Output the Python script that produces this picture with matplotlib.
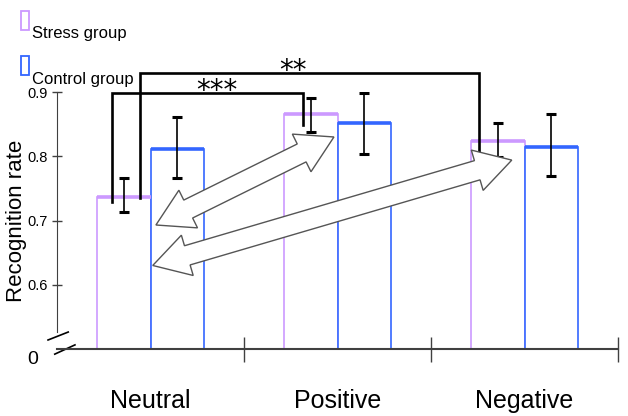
import numpy as np
import matplotlib.pyplot as plt
from matplotlib.patches import Polygon, Rectangle
from matplotlib.transforms import IdentityTransform

# data
categories = ['Neutral', 'Positive', 'Negative']
groups = ['Stress group', 'Control group']
stress_mean = [0.737, 0.865, 0.824]
stress_lo = [0.713, 0.837, 0.799]
stress_hi = [0.766, 0.890, 0.852]
control_mean = [0.811, 0.852, 0.815]
control_lo = [0.766, 0.803, 0.770]
control_hi = [0.861, 0.898, 0.865]
yticks = [0.6, 0.7, 0.8, 0.9]

# significance brackets: (left leg x, right leg x, left bottom, right bottom, top, label x, label)
brackets = [(-0.204, 0.815, 0.729, 0.849, 0.898, 0.356, '***'),
            (-0.055, 1.757, 0.735, 0.807, 0.929, 0.762, '**')]
# hollow double arrows between bars (data coords)
arrows = [((0.029, 0.693), (0.981, 0.830)),
          ((0.012, 0.630), (1.932, 0.794))]

base = 0.5
w = 0.285
lav = '#cc99ff'
blue = '#3366ff'
plt.rcParams['font.family'] = ['Liberation Sans', 'DejaVu Sans']

fig = plt.figure(figsize=(6.28, 4.16), dpi=100)
ax = fig.add_axes([57 / 628, 67 / 416, 561 / 628, 257 / 416])

x = np.arange(len(categories))
xs = x - w / 2
xc = x + w / 2
sm = np.array(stress_mean)
cm = np.array(control_mean)
ax.bar(xs, sm - base, w, bottom=base, facecolor='white', edgecolor=lav, linewidth=1.2, zorder=2)
ax.bar(xc, cm - base, w, bottom=base, facecolor='white', edgecolor=blue, linewidth=1.2, zorder=2)
ax.hlines(sm, xs - w / 2, xs + w / 2, color=lav, lw=2.6, zorder=3)
ax.hlines(cm, xc - w / 2, xc + w / 2, color=blue, lw=2.6, zorder=3)

for pos, m, lo, hi in [(xs, sm, stress_lo, stress_hi), (xc, cm, control_lo, control_hi)]:
    err = [m - np.array(lo), np.array(hi) - m]
    ax.errorbar(pos, m, yerr=err, fmt='none', ecolor='black', elinewidth=1.2,
                capsize=3.5, capthick=2.2, zorder=4)

ax.set_xlim(-0.5, 2.5)
ax.set_ylim(base, 0.9)

for s in ['top', 'right']:
    ax.spines[s].set_visible(False)
ax.spines['left'].set_bounds(0.527, 0.9)
ax.spines['left'].set_color('#404040')
ax.spines['bottom'].set_color('#404040')
ax.spines['bottom'].set_linewidth(1.5)

ax.set_yticks(yticks)
ax.set_yticklabels([f'{v:.1f}' for v in yticks], fontsize=10.5)
ax.tick_params(axis='y', direction='inout', length=7, width=1, color='#404040', pad=3)

ax.set_xticks([0.5, 1.5, 2.5])
ax.set_xticklabels([])
ax.set_xticks(x, minor=True)
ax.set_xticklabels(categories, minor=True, fontsize=18)
ax.tick_params(axis='x', which='major', direction='inout', length=18, width=1, color='#404040')
ax.tick_params(axis='x', which='minor', length=0, pad=29)

ax.set_ylabel('Recognition rate', fontsize=16)
ax.yaxis.set_label_coords(-0.053, 0.5)

# broken axis marks and the "0"
ax.plot([-0.016, 0.020], [0.035, 0.066], transform=ax.transAxes, color='black', lw=1.2, clip_on=False)
ax.plot([-0.004, 0.032], [-0.020, 0.016], transform=ax.transAxes, color='black', lw=1.2, clip_on=False)
ax.text(-0.043, -0.04, '0', transform=ax.transAxes, ha='center', va='center', fontsize=14)

# significance brackets
for xl, xr, bl, br, top, tx, lab in brackets:
    ax.plot([xl, xl, xr, xr], [bl, top, top, br], color='black', lw=1.9,
            clip_on=False, zorder=5, solid_joinstyle='miter')
    ax.text(tx, top - 0.009, lab, ha='center', va='baseline',
            fontsize=20, family='DejaVu Sans')

# hollow double-headed arrows
fig.canvas.draw()
def double_arrow(p0, p1, sw=20, hl=36, hw=42):
    a = ax.transData.transform(p0)
    b = ax.transData.transform(p1)
    d = (b - a) / np.hypot(*(b - a))
    n = np.array([-d[1], d[0]])
    a2 = a + d * hl
    b2 = b - d * hl
    pts = [a, a2 + n * hw / 2, a2 + n * sw / 2, b2 + n * sw / 2, b2 + n * hw / 2, b,
           b2 - n * hw / 2, b2 - n * sw / 2, a2 - n * sw / 2, a2 - n * hw / 2]
    return Polygon(pts, closed=True, transform=IdentityTransform(),
                   facecolor='white', edgecolor='#555555', lw=1.0, zorder=6)

for p0, p1 in arrows:
    fig.add_artist(double_arrow(p0, p1))

# legend, drawn by hand: small tall boxes with the label a bit below them
W, H = 628, 416
for i, (lab, col) in enumerate(zip(groups, [lav, blue])):
    fig.add_artist(Rectangle((21 / W, 1 - (30 + 45 * i) / H), 8 / W, 19 / H,
                             transform=fig.transFigure, fill=False, edgecolor=col, lw=1.3))
    fig.text(32 / W, 1 - (38 + 46 * i) / H, lab, va='baseline', ha='left', fontsize=12)

fig.savefig('out.png', dpi=100)
